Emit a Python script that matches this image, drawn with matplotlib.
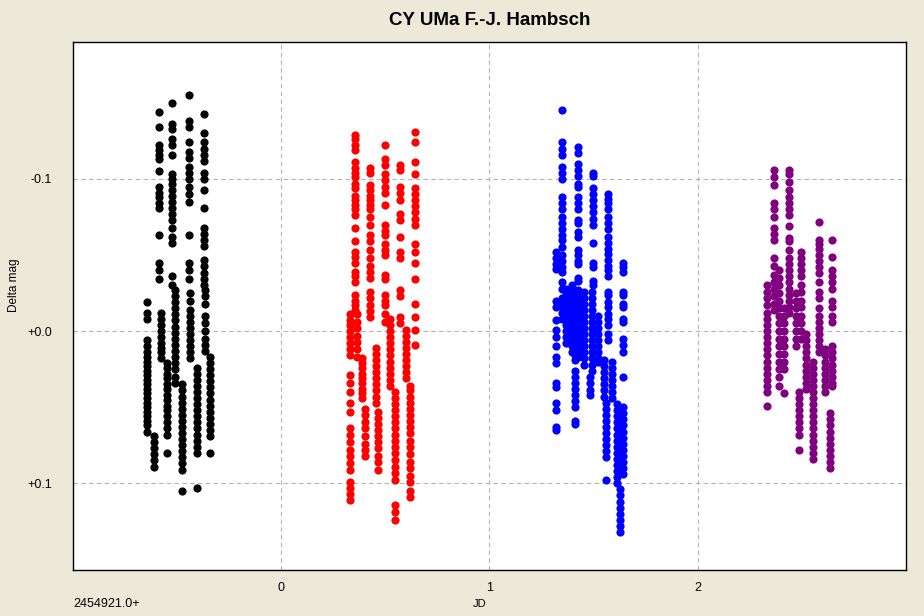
import matplotlib
matplotlib.use("Agg")
import matplotlib.pyplot as plt

# Light curve of CY UMa, four nights.  Each night is stored as a set of
# short time segments: one JD (days after 2454921.0) per segment and the
# differential magnitudes measured in that segment.

night1_jd = [-0.588, -0.525, -0.443, -0.371,
             -0.646, -0.612, -0.578, -0.550, -0.511, -0.477,
             -0.438, -0.405, -0.366, -0.343]
night1_mag = [
    [-0.144, -0.134, -0.122, -0.119, -0.116, -0.113, -0.105, -0.095, -0.091,
     -0.088, -0.084, -0.081, -0.063, -0.045, -0.040, -0.034],
    [-0.150, -0.136, -0.133, -0.126, -0.122, -0.116, -0.103, -0.100, -0.097,
     -0.093, -0.089, -0.085, -0.081, -0.077, -0.073, -0.068, -0.062, -0.058,
     -0.036, -0.030],
    [-0.155, -0.138, -0.134, -0.124, -0.118, -0.114, -0.108, -0.104, -0.100,
     -0.095, -0.090, -0.085, -0.063, -0.045, -0.040, -0.034],
    [-0.143, -0.130, -0.124, -0.120, -0.116, -0.112, -0.104, -0.100, -0.093,
     -0.081, -0.068, -0.064, -0.060, -0.056, -0.047, -0.043, -0.038, -0.034,
     -0.030],
    [-0.019, -0.012, -0.008, 0.006, 0.010, 0.014, 0.017, 0.020, 0.023, 0.026,
     0.029, 0.032, 0.035, 0.038, 0.041, 0.044, 0.047, 0.050, 0.053, 0.056,
     0.059, 0.062, 0.066],
    [0.069, 0.073, 0.077, 0.081, 0.085, 0.089],
    [-0.012, -0.008, -0.004, 0.000, 0.004, 0.008, 0.011, 0.014, 0.018],
    [0.021, 0.024, 0.028, 0.031, 0.035, 0.038, 0.042, 0.045, 0.049, 0.052,
     0.056, 0.060, 0.064, 0.068, 0.080],
    [-0.027, -0.023, -0.019, -0.015, -0.011, -0.007, -0.003, 0.001, 0.005,
     0.009, 0.013, 0.017, 0.021, 0.025, 0.030, 0.034],
    [0.035, 0.039, 0.043, 0.047, 0.051, 0.055, 0.059, 0.063, 0.067, 0.071,
     0.075, 0.079, 0.083, 0.087, 0.091, 0.105],
    [-0.025, -0.020, -0.014, -0.010, -0.006, -0.002, 0.002, 0.006, 0.010,
     0.014, 0.018],
    [0.024, 0.028, 0.032, 0.036, 0.040, 0.044, 0.048, 0.052, 0.056, 0.060,
     0.064, 0.068, 0.072, 0.076, 0.080, 0.103],
    [-0.027, -0.023, -0.018, -0.010, -0.005, 0.000, 0.005, 0.009, 0.013],
    [0.017, 0.021, 0.025, 0.029, 0.033, 0.037, 0.041, 0.045, 0.049, 0.053,
     0.057, 0.061, 0.065, 0.069, 0.080],
]

night2_jd = [0.352, 0.328, 0.366, 0.424, 0.390, 0.400, 0.496, 0.453, 0.463,
             0.569, 0.520, 0.545, 0.641, 0.598, 0.617]
night2_mag = [
    [-0.129, -0.126, -0.122, -0.119, -0.111, -0.107, -0.104, -0.101, -0.097,
     -0.094, -0.089, -0.086, -0.083, -0.080, -0.076, -0.068, -0.059, -0.052,
     -0.049, -0.045, -0.039, -0.036, -0.032, -0.024, -0.020, -0.017, -0.014],
    [-0.011, -0.007, -0.004, 0.000, 0.004, 0.008, 0.012, 0.016, 0.029, 0.034,
     0.040, 0.047, 0.053, 0.064, 0.068, 0.073, 0.078, 0.082, 0.087, 0.091,
     0.099, 0.103, 0.107, 0.111],
    [-0.011, -0.006, -0.002, 0.003, 0.007, 0.012, 0.017],
    [-0.107, -0.104, -0.096, -0.093, -0.089, -0.086, -0.083, -0.080, -0.075,
     -0.070, -0.063, -0.059, -0.053, -0.048, -0.043, -0.039, -0.035, -0.026,
     -0.022, -0.017, -0.013, -0.009],
    [0.018, 0.021, 0.024, 0.028, 0.031, 0.034, 0.038, 0.041, 0.044],
    [0.051, 0.055, 0.060, 0.064, 0.069, 0.074, 0.078, 0.082],
    [-0.122, -0.113, -0.109, -0.103, -0.099, -0.095, -0.091, -0.083, -0.070,
     -0.066, -0.063, -0.057, -0.053, -0.050, -0.037, -0.034, -0.024, -0.020,
     -0.017, -0.011, -0.006],
    [0.011, 0.015, 0.019, 0.023, 0.027, 0.031, 0.035, 0.039, 0.043, 0.047],
    [0.053, 0.057, 0.061, 0.065, 0.069, 0.073, 0.077, 0.082, 0.086, 0.091],
    [-0.109, -0.106, -0.095, -0.091, -0.086, -0.077, -0.073, -0.062, -0.052,
     -0.048, -0.027, -0.023, -0.009, -0.005],
    [-0.008, -0.004, 0.000, 0.004, 0.008, 0.012, 0.016, 0.020, 0.024, 0.028,
     0.032, 0.036],
    [0.040, 0.044, 0.048, 0.052, 0.056, 0.060, 0.064, 0.068, 0.072, 0.076,
     0.080, 0.085, 0.089, 0.093, 0.098, 0.114, 0.119, 0.124],
    [-0.131, -0.124, -0.111, -0.103, -0.094, -0.090, -0.086, -0.082, -0.078,
     -0.074, -0.070, -0.057, -0.052, -0.045, -0.034, -0.018, -0.009, -0.001,
     0.009],
    [-0.001, 0.003, 0.007, 0.011, 0.015, 0.019, 0.023, 0.027, 0.031],
    [0.036, 0.039, 0.043, 0.047, 0.051, 0.055, 0.059, 0.063, 0.067, 0.072,
     0.076, 0.081, 0.086, 0.090, 0.095, 0.099, 0.105, 0.109],
]

night3_jd = [1.349, 1.320, 1.369, 1.398, 1.427, 1.412, 1.455, 1.499, 1.494,
             1.484, 1.523, 1.552, 1.561, 1.571, 1.610, 1.629, 1.643, 1.590,
             1.639]
night3_mag = [
    [-0.145, -0.124, -0.120, -0.116, -0.108, -0.104, -0.100, -0.088, -0.084,
     -0.080, -0.075, -0.071, -0.067, -0.063, -0.060, -0.055, -0.050, -0.046,
     -0.042, -0.039, -0.032, -0.028, -0.022, -0.019, -0.016, -0.012, -0.008],
    [-0.052, -0.048, -0.044, -0.041, -0.020, -0.016, -0.007, -0.001, 0.004,
     0.010, 0.017, 0.021, 0.034, 0.037, 0.047, 0.052, 0.063, 0.065],
    [-0.028, -0.024, -0.020, -0.016, -0.012, -0.008, -0.004, 0.000, 0.004,
     0.008],
    [-0.030, -0.026, -0.022, -0.018, -0.014, -0.010, -0.006, -0.002, 0.002,
     0.006, 0.010, 0.014],
    [-0.121, -0.117, -0.110, -0.106, -0.102, -0.097, -0.095, -0.088, -0.084,
     -0.080, -0.073, -0.071, -0.065, -0.062, -0.053, -0.050, -0.046, -0.044,
     -0.035, -0.033, -0.027, -0.023, -0.019, -0.015, -0.011, -0.007, -0.003,
     0.001, 0.005, 0.009, 0.013, 0.017],
    [0.016, 0.019, 0.026, 0.030, 0.034, 0.038, 0.042, 0.046, 0.050, 0.059,
     0.061],
    [-0.026, -0.022, -0.018, -0.014, -0.010, -0.006, -0.002, 0.002, 0.006,
     0.010, 0.014, 0.018, 0.022],
    [-0.104, -0.102, -0.094, -0.090, -0.086, -0.082, -0.078, -0.074, -0.070,
     -0.058, -0.045, -0.042, -0.033, -0.030],
    [-0.026, -0.022, -0.018, -0.014, -0.010, -0.006, -0.002, 0.002, 0.006,
     0.010, 0.014, 0.018, 0.022, 0.026],
    [0.030, 0.034, 0.039, 0.042],
    [-0.010, -0.006, -0.002, 0.002, 0.006, 0.010, 0.014, 0.018, 0.020],
    [0.019, 0.023, 0.027, 0.031, 0.035, 0.039, 0.043],
    [0.047, 0.051, 0.055, 0.059, 0.063, 0.067, 0.071, 0.075, 0.079, 0.083,
     0.098],
    [-0.090, -0.087, -0.084, -0.080, -0.075, -0.071, -0.067, -0.062, -0.058,
     -0.054, -0.051, -0.047, -0.043, -0.040, -0.036, -0.026, -0.024, -0.019,
     -0.016, -0.011, -0.008, -0.004, 0.002, 0.006],
    [0.048, 0.052, 0.056, 0.060, 0.064, 0.068, 0.072, 0.076, 0.080, 0.084,
     0.088, 0.092, 0.096, 0.100],
    [0.104, 0.108, 0.112, 0.116, 0.120, 0.124, 0.128, 0.132],
    [-0.045, -0.042, -0.039, -0.026, -0.024, -0.018, -0.016, -0.008, -0.006,
     0.005, 0.009, 0.014, 0.030],
    [0.020, 0.024, 0.028, 0.032, 0.036, 0.040, 0.044],
    [0.050, 0.054, 0.058, 0.062, 0.066, 0.070, 0.074, 0.078, 0.082, 0.086,
     0.090, 0.094],
]

night4_jd = [2.366, 2.439, 2.333, 2.390, 2.414, 2.496, 2.472, 2.520, 2.487,
             2.583, 2.554, 2.612, 2.646, 2.636]
night4_mag = [
    [-0.106, -0.101, -0.096, -0.084, -0.080, -0.075, -0.068, -0.064, -0.060,
     -0.048, -0.043, -0.037, -0.032, -0.028, -0.023, -0.018, -0.014],
    [-0.106, -0.103, -0.098, -0.093, -0.088, -0.084, -0.080, -0.076, -0.069,
     -0.061, -0.059, -0.053, -0.048, -0.044, -0.040, -0.036, -0.032, -0.028,
     -0.024, -0.020, -0.016, -0.012],
    [-0.030, -0.026, -0.022, -0.017, -0.012, -0.008, -0.004, 0.000, 0.004,
     0.008, 0.012, 0.016, 0.020, 0.024, 0.028, 0.032, 0.036, 0.040, 0.049],
    [-0.040, -0.035, -0.030, -0.025, -0.020, -0.015, -0.010, -0.005, 0.000,
     0.005, 0.010, 0.015, 0.020, 0.025, 0.030, 0.036],
    [-0.015, -0.010, -0.005, 0.000, 0.005, 0.010, 0.015, 0.020, 0.025, 0.041],
    [-0.052, -0.048, -0.044, -0.040, -0.036, -0.030, -0.026, -0.020, -0.016,
     -0.010, -0.005, 0.000, 0.005],
    [-0.025, -0.020, -0.015, -0.010, -0.005, 0.000, 0.005, 0.010],
    [0.002, 0.006, 0.010, 0.014, 0.018, 0.022, 0.026, 0.030, 0.034, 0.038],
    [0.040, 0.044, 0.048, 0.052, 0.056, 0.060, 0.064, 0.068, 0.078],
    [-0.072, -0.060, -0.057, -0.054, -0.050, -0.046, -0.042, -0.038, -0.032,
     -0.026, -0.022, -0.015, -0.010, -0.006, -0.002, 0.002, 0.006, 0.010,
     0.014],
    [0.020, 0.024, 0.028, 0.032, 0.036, 0.040, 0.044, 0.048, 0.052, 0.056,
     0.060, 0.064, 0.068, 0.072, 0.076, 0.080, 0.084],
    [0.012, 0.016, 0.020, 0.024, 0.028, 0.032, 0.036, 0.040],
    [-0.060, -0.049, -0.040, -0.036, -0.032, -0.028, -0.020, -0.016, -0.010,
     -0.006, 0.010, 0.014, 0.018, 0.022, 0.026, 0.030, 0.034, 0.036],
    [0.054, 0.058, 0.062, 0.066, 0.070, 0.074, 0.078, 0.082, 0.086, 0.090],
]

night_colors = ["#000000", "#FF0000", "#0000FF", "#800080"]

x_ticks = [0, 1, 2]
x_tick_labels = ["0", "1", "2"]
y_ticks = [-0.1, 0.0, 0.1]
y_tick_labels = ["-0.1", "+0.0", "+0.1"]

title = "CY UMa F.-J. Hambsch"
x_label = "JD"
y_label = "Delta mag"
jd_offset_label = "2454921.0+"

plt.rcParams["font.family"] = ["Liberation Sans", "DejaVu Sans"]

fig = plt.figure(figsize=(9.24, 6.16), dpi=100, facecolor="#ECE9D8")
ax = fig.add_axes([0.079, 0.0747, 0.9015, 0.8571])
ax.set_facecolor("white")

nights = [(night1_jd, night1_mag), (night2_jd, night2_mag),
          (night3_jd, night3_mag), (night4_jd, night4_mag)]
for (seg_jd, seg_mag), color in zip(nights, night_colors):
    xs, ys = [], []
    for t, mags in zip(seg_jd, seg_mag):
        xs.extend([t] * len(mags))
        ys.extend(mags)
    ax.plot(xs, ys, linestyle="none", marker="o", markersize=5.9,
            markeredgewidth=0, color=color)

ax.set_xlim(-1.0, 3.0)
ax.set_ylim(0.157, -0.190)

ax.set_xticks(x_ticks)
ax.set_xticklabels(x_tick_labels)
ax.set_yticks(y_ticks)
ax.set_yticklabels(y_tick_labels)
ax.tick_params(length=0, labelsize=9, colors="#000000")
ax.tick_params(axis="x", pad=9)
ax.tick_params(axis="y", pad=15)
ax.grid(True, color="#B4B4B4", linestyle=(0, (4, 3)), linewidth=0.8)
ax.set_axisbelow(True)
for spine in ax.spines.values():
    spine.set_color("#000000")
    spine.set_linewidth(1.0)

fig.text(0.5298, 0.967, title, ha="center", va="center",
         fontsize=13.5, fontweight="bold")
fig.text(0.015, 0.5373, y_label, rotation=90, ha="center", va="center",
         fontsize=8.5)
fig.text(0.5195, 0.019, x_label, ha="center", va="center", fontsize=8)
fig.text(0.079, 0.019, jd_offset_label, ha="left", va="center", fontsize=9)

fig.savefig("out.png", dpi=100, facecolor=fig.get_facecolor())
